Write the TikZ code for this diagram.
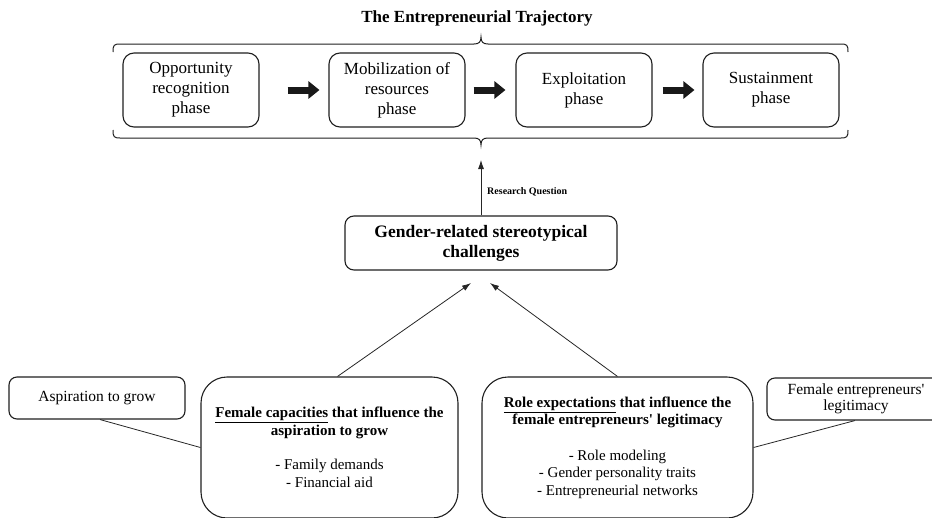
\documentclass[tikz,border=0pt]{standalone}
\usepackage{fontspec}
\setmainfont{Liberation Serif}
\usetikzlibrary{arrows.meta}
\begin{document}
\begin{tikzpicture}[x=1pt,y=-1pt,
  phasebox/.style={draw=black!88, line width=1.1pt, rounded corners=11pt, minimum width=136pt, minimum height=74pt, align=center, inner sep=0pt, font=\fontsize{17}{20}\selectfont},
  mainbox/.style={draw=black!88, line width=1.1pt, rounded corners=9pt, minimum width=272pt, minimum height=54pt, align=center, inner sep=0pt, font=\bfseries\fontsize{17.5}{20}\selectfont},
  smallbox/.style={draw=black!88, line width=1.1pt, rounded corners=8pt, minimum height=42pt, align=center, inner sep=0pt, font=\fontsize{15.5}{16}\selectfont},
  bigbox/.style={draw=black!88, line width=1.1pt, rounded corners=26pt, minimum height=141pt, align=center, inner sep=0pt, font=\fontsize{15}{17.5}\selectfont},
  blockarrow/.style={draw=black!90, line width=7pt, -{Triangle[length=11pt,width=17pt]}},
  thinarrow/.style={draw=black!85, line width=0.8pt, -{Latex[length=9pt,width=6pt]}},
  thinline/.style={draw=black!85, line width=0.8pt},
  bracestyle/.style={draw=black!88, line width=1pt}
]
\useasboundingbox (0,0) rectangle (932,517);
\clip (0,0) rectangle (932,517);

% title
\node[font=\bfseries\fontsize{17}{20}\selectfont] (title) at (477,18) {The Entrepreneurial Trajectory};

% braces
\draw[bracestyle] (113,52) .. controls (113,45) and (114,44) .. (120,44) -- (474,44)
  .. controls (479,44) and (481,42) .. (481,37) .. controls (481,42) and (483,44) .. (488,44)
  -- (841,44) .. controls (847,44) and (848,45) .. (848,52);
\draw[bracestyle] (113,130) .. controls (113,137) and (114,138) .. (120,138) -- (474,138)
  .. controls (479,138) and (481,140) .. (481,145) .. controls (481,140) and (483,138) .. (488,138)
  -- (841,138) .. controls (847,138) and (848,137) .. (848,130);

% phases
\node[phasebox] (b1) at (191,90) {Opportunity\\recognition\\phase};
\node[phasebox] (b2) at (397,90) {Mobilization of\\resources\\phase};
\node[phasebox] (b3) at (584,90) {Exploitation\\phase};
\node[phasebox] (b4) at (771,90) {Sustainment\\phase};

\draw[blockarrow, shorten <=28pt, shorten >=9pt] (b1.east) -- (b2.west);
\draw[blockarrow, shorten <=8pt, shorten >=10pt] (b2.east) -- (b3.west);
\draw[blockarrow, shorten <=10pt, shorten >=8pt] (b3.east) -- (b4.west);

% central box
\node[mainbox] (gender) at (481,243) {Gender-related stereotypical\\challenges};
\coordinate (rq) at (481,160);
\draw[thinarrow] (gender.north) -- (rq);
\node[anchor=west, inner sep=0pt, font=\bfseries\fontsize{10}{12}\selectfont] (rqlabel) at (487,192) {Research Question};

% bottom boxes
\node[smallbox, minimum width=176pt] (asp) at (97,398) {Aspiration to grow};
\node[smallbox, minimum width=178pt] (fel) at (856,399) {Female entrepreneurs\textquotesingle\\legitimacy};
\node[bigbox, minimum width=257pt] (fcap) at (329.5,447.5) {\textbf{\underline{Female capacities} that influence the}\\\textbf{aspiration to grow}\\[17pt]- Family demands\\- Financial aid};
\node[bigbox, minimum width=271pt] (role) at (617.5,447.5) {\textbf{\underline{Role expectations} that influence the}\\\textbf{female entrepreneurs\textquotesingle\ legitimacy}\\[18pt]- Role modeling\\- Gender personality traits\\- Entrepreneurial networks};

\coordinate (gl) at (471,283);
\coordinate (gr) at (490,283);
\draw[thinarrow] ([xshift=8pt]fcap.north) -- (gl);
\draw[thinarrow] (role.north) -- (gr);

\draw[thinline] ([xshift=3pt]asp.south) -- (fcap.west);
\draw[thinline] ([xshift=-1pt]fel.south) -- (role.east);
\end{tikzpicture}
\end{document}
